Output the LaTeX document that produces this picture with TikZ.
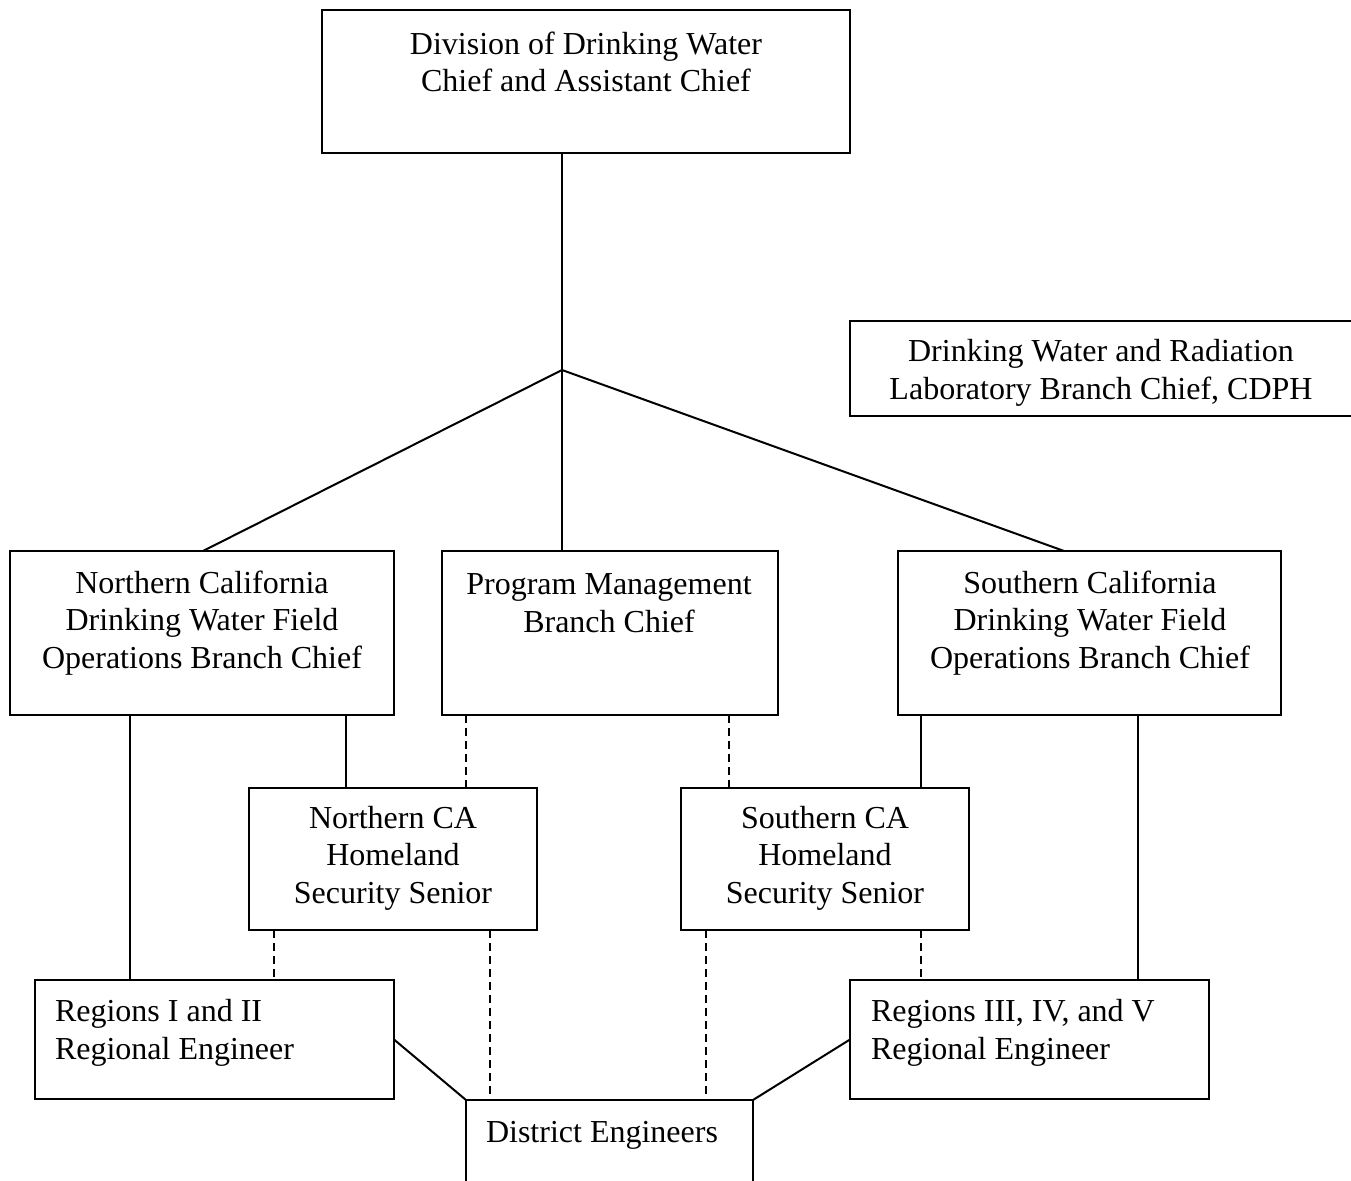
\documentclass[tikz,border=0pt]{standalone}
\usepackage{fontspec}
\setmainfont{Liberation Serif}
\begin{document}
\begin{tikzpicture}[x=0.5pt,y=-0.5pt,
  box/.style={draw, line width=1pt, inner sep=0pt, outer sep=0pt},
  plain/.style={inner sep=0pt, outer sep=0pt},
  txt/.style={inner sep=0pt, outer sep=0pt, align=center, font=\fontsize{16}{18.75}\selectfont},
  ltxt/.style={inner sep=0pt, outer sep=0pt, align=left, anchor=west, font=\fontsize{16}{18.75}\selectfont},
  conn/.style={line width=1pt},
  dconn/.style={line width=1pt, dash pattern=on 4pt off 2.5pt}]
\useasboundingbox (0,0) rectangle (1351,1181);
% boxes
\node[box, minimum width=264pt, minimum height=71.5pt] (top) at (586,81.5) {};
\node[box, minimum width=253pt, minimum height=47.5pt] (lab) at (1103,368.5) {};
\node[box, minimum width=192pt, minimum height=82pt] (nc) at (202,633) {};
\node[box, minimum width=168pt, minimum height=82pt] (pm) at (610,633) {};
\node[box, minimum width=191.5pt, minimum height=82pt] (sc) at (1089.5,633) {};
\node[box, minimum width=144pt, minimum height=71pt] (nhs) at (393,859) {};
\node[box, minimum width=144pt, minimum height=71pt] (shs) at (825,859) {};
\node[box, minimum width=179.5pt, minimum height=59.5pt] (r1) at (214.5,1039.5) {};
\node[box, minimum width=179.5pt, minimum height=59.5pt] (r3) at (1029.5,1039.5) {};
\node[plain, minimum width=143.5pt, minimum height=45pt] (de) at (609.5,1145) {};
\draw[conn] (de.south west) -- (de.north west) -- (de.north east) -- (de.south east);
% texts
\node[txt] (topt) at (586,62) {Division of Drinking Water\\Chief and Assistant Chief};
\node[txt] (labt) at (1101,373) {Drinking Water and Radiation\\Laboratory Branch Chief, CDPH};
\node[txt] (nct) at (202,623) {Northern California\\Drinking Water Field\\Operations Branch Chief};
\node[txt] (pmt) at (609,603) {Program Management\\Branch Chief};
\node[txt] (sct) at (1090,623) {Southern California\\Drinking Water Field\\Operations Branch Chief};
\node[txt] (nhst) at (393,858) {Northern CA\\Homeland\\Security Senior};
\node[txt] (shst) at (825,858) {Southern CA\\Homeland\\Security Senior};
\node[ltxt] (r1t) at (55,1033) {Regions I and II\\Regional Engineer};
\node[ltxt] (r3t) at (871,1033) {Regions III, IV, and V\\Regional Engineer};
\node[ltxt] (det) at (486,1135) {District Engineers};
% junction
\coordinate (J) at (562,370);
\draw[conn] ([xshift=120pt]top.south west) -- (J);
\draw[conn] (J) -- ([xshift=96.5pt]nc.north west);
\draw[conn] (J) -- ([xshift=60pt]pm.north west);
\draw[conn] (J) -- ([xshift=83pt]sc.north west);
% level 2 to 3
\draw[conn] ([xshift=60pt]nc.south west) -- ([xshift=47.5pt]r1.north west);
\draw[conn] ([xshift=168pt]nc.south west) -- ([xshift=48.5pt]nhs.north west);
\draw[dconn] ([xshift=12pt]pm.south west) -- ([xshift=108.5pt]nhs.north west);
\draw[dconn] ([xshift=143.5pt]pm.south west) -- ([xshift=24pt]shs.north west);
\draw[conn] ([xshift=11.5pt]sc.south west) -- ([xshift=120pt]shs.north west);
\draw[conn] ([xshift=120pt]sc.south west) -- ([xshift=144pt]r3.north west);
% level 3 to 4
\draw[dconn] ([xshift=12.5pt]nhs.south west) -- ([xshift=119.5pt]r1.north west);
\draw[dconn] ([xshift=120.5pt]nhs.south west) -- ([xshift=12pt]de.north west);
\draw[dconn] ([xshift=12.5pt]shs.south west) -- ([xshift=120pt]de.north west);
\draw[dconn] ([xshift=120pt]shs.south west) -- ([xshift=35.5pt]r3.north west);
% regions to district
\draw[conn] (r1.east) -- (de.north west);
\draw[conn] (r3.west) -- (de.north east);
\end{tikzpicture}
\end{document}
